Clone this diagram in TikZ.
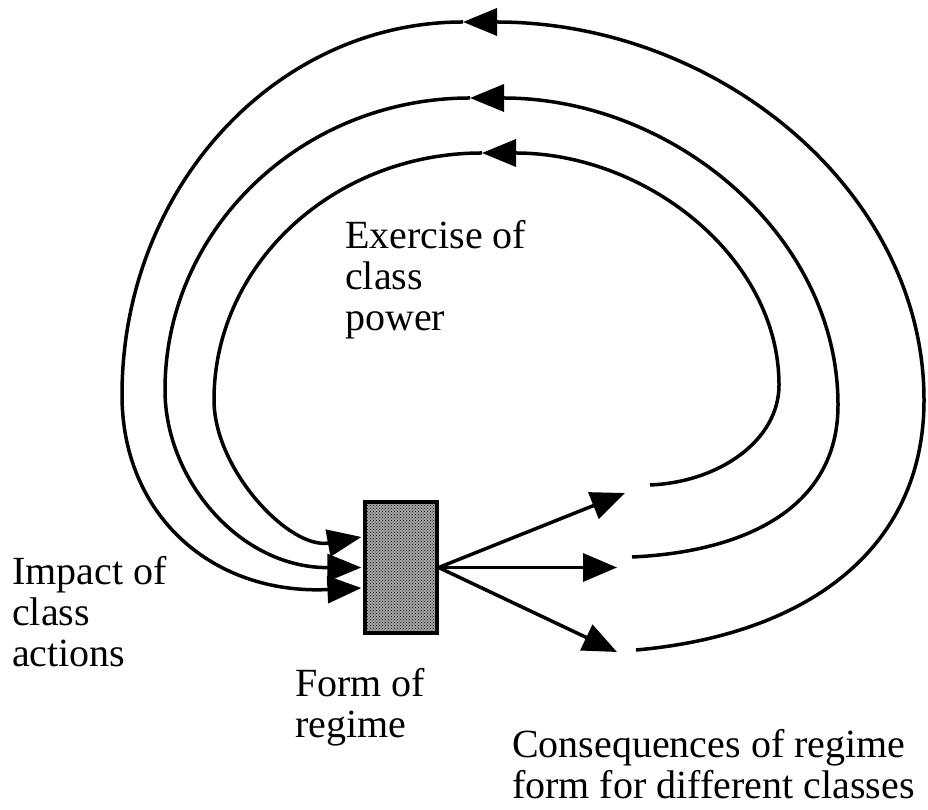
\documentclass[tikz,border=0pt]{standalone}
\usepackage{fontspec}
\setmainfont{Liberation Serif}
\usetikzlibrary{arrows.meta,patterns}

\begin{document}
\begin{tikzpicture}[x=1pt,y=1pt,
  feedback/.style={line width=3.5pt,-{Triangle[length=34pt,width=27pt]}},
  outarrow/.style={line width=3.5pt,-{Triangle[length=34pt,width=28pt]}},
  lbl/.style={anchor=base west,inner sep=0pt,align=left,font=\fontsize{40}{41}\selectfont},
  regimebox/.style={draw,line width=3.2pt,fill=black!35,postaction={pattern=crosshatch dots},
    minimum width=72pt,minimum height=131pt,inner sep=0pt}]
\useasboundingbox (0,0) rectangle (928,810);

\node[regimebox] (regime) at (401,242.5) {};

\coordinate (c1) at (625,317);
\coordinate (c2) at (617,242.5);
\coordinate (c3) at (617,158);
\draw[outarrow] (regime.east) -- (c1);
\draw[outarrow] (regime.east) -- (c2);
\draw[outarrow] (regime.east) -- (c3);

% inner loop
\coordinate (s1) at (650,325);
\coordinate (t1) at (482,657);
\draw[feedback] (s1) .. controls (720,328) and (779,370) .. (779,425)
  .. controls (779,553) and (646,657) .. (t1);
\draw[feedback] (t1) .. controls (334,657) and (214,546) .. (214,410)
  .. controls (214,340) and (290,260) .. ([xshift=-2pt,yshift=30.5pt]regime.west);

% middle loop
\coordinate (s2) at (632,253);
\coordinate (t2) at (470,712);
\draw[feedback] (s2) .. controls (742,258) and (838,300) .. (838,405)
  .. controls (838,575) and (673,712) .. (t2);
\draw[feedback] (t2) .. controls (302,712) and (165,581) .. (165,420)
  .. controls (165,330) and (240,242) .. ([xshift=-2pt]regime.west);

% outer loop
\coordinate (s3) at (636,160);
\coordinate (t3) at (463,788);
\draw[feedback] (s3) .. controls (806,175) and (924,260) .. (924,410)
  .. controls (924,619) and (718,788) .. (t3);
\draw[feedback] (t3) .. controls (275,788) and (122,621) .. (122,415)
  .. controls (122,295) and (212,215) .. ([xshift=-2pt,yshift=-20.5pt]regime.west);

\node[lbl] (exercise) at (345,479) {Exercise of\\class\\power};
\node[lbl] (impact) at (12,143) {Impact of\\class\\actions};
\node[lbl] (form) at (295,72) {Form of\\regime};
\node[lbl] (conseq) at (512,11) {Consequences of regime\\form for different classes};

\end{tikzpicture}
\end{document}
